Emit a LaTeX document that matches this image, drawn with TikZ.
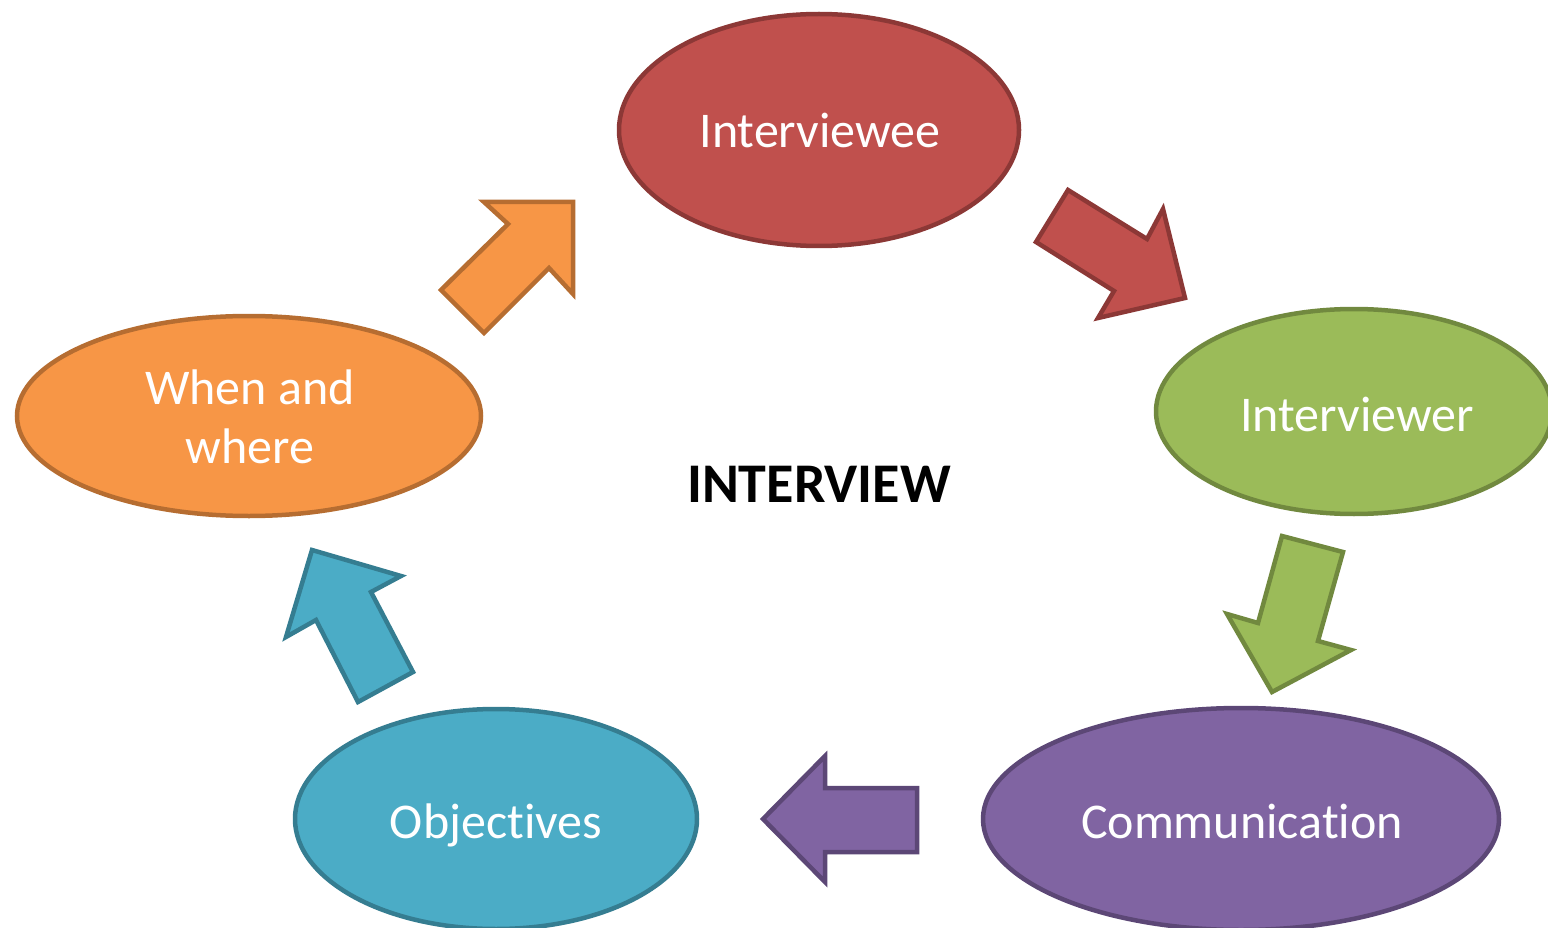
\documentclass[tikz,border=0pt]{standalone}
\usepackage{fontspec}
\setmainfont{Carlito}[Ligatures={NoCommon}]
\usetikzlibrary{calc,shapes.geometric}

\definecolor{redF}{HTML}{C0504D}\definecolor{redB}{HTML}{8C3836}
\definecolor{grnF}{HTML}{9BBB59}\definecolor{grnB}{HTML}{71893F}
\definecolor{purF}{HTML}{8064A2}\definecolor{purB}{HTML}{5C4776}
\definecolor{bluF}{HTML}{4BACC6}\definecolor{bluB}{HTML}{357D91}
\definecolor{orgF}{HTML}{F79646}\definecolor{orgB}{HTML}{B66D31}

\tikzset{
  oval/.style n args={4}{ellipse, draw=#2, fill=#1, line width=4.5pt,
    minimum width=#3, minimum height=#4, inner sep=0pt, outer sep=0pt},
  lbl/.style={text=white, anchor=base, inner sep=0pt,
    font=\fontsize{50}{60}\selectfont},
  blockarrow/.style 2 args={draw=#2, fill=#1, line width=4.5pt, line join=miter},
}

\begin{document}
\begin{tikzpicture}[x=1pt, y=-1pt]
  \useasboundingbox (0,0) rectangle (1548,928);
  \clip (0,0) rectangle (1548,928);

  % the five stages of the cycle
  \node[oval={redF}{redB}{400pt}{232pt}] (iwee) at (819,130) {};
  \node[oval={grnF}{grnB}{396pt}{205pt}] (iwer) at (1354,411.5) {};
  \node[oval={purF}{purB}{516pt}{222pt}] (comm) at (1241,819) {};
  \node[oval={bluF}{bluB}{402pt}{220pt}] (obj)  at (496,819) {};
  \node[oval={orgF}{orgB}{464pt}{200pt}] (when) at (249,416) {};

  % stage labels
  \node[lbl] (iwee-t) at ($(iwee.center)+(1,18)$) {Interviewee};
  \node[lbl] (iwer-t) at ($(iwer.center)+(3,19.5)$) {Interviewer};
  \node[lbl] (comm-t) at ($(comm.center)+(1,19)$) {Communication};
  \node[lbl] (obj-t)  at ($(obj.center)+(0,19)$) {Objectives};
  \node[lbl] (when-t1) at ($(when.center)+(1,-12)$) {When and};
  \node[lbl] (when-t2) at ($(when.center)+(1,47)$) {where};

  % centre title
  \node[anchor=base, inner sep=0pt, font=\fontsize{56}{66}\selectfont\bfseries]
    (title) at (819,502) {INTERVIEW};

  % block arrows between the stages
  \draw[blockarrow={redF}{redB}]
    (1068,190) -- (1147,239) -- (1163,209) -- (1185,298) -- (1098,318)
    -- (1114,291) -- (1036,242) -- cycle;
  \draw[blockarrow={grnF}{grnB}]
    (1282,536) -- (1343,552) -- (1318,641) -- (1351,650) -- (1272,692)
    -- (1227,614) -- (1258,623) -- cycle;
  \draw[blockarrow={purF}{purB}]
    (917,788) -- (825,788) -- (825,756) -- (763,819) -- (825,882)
    -- (825,852) -- (917,852) -- cycle;
  \draw[blockarrow={bluF}{bluB}]
    (413,672) -- (371,592) -- (401,576) -- (312,550) -- (286,637)
    -- (316,620) -- (358,702) -- cycle;
  \draw[blockarrow={orgF}{orgB}]
    (441,290) -- (508,224) -- (484,202) -- (573,202) -- (573,294)
    -- (549,268) -- (484,333) -- cycle;
\end{tikzpicture}
\end{document}
